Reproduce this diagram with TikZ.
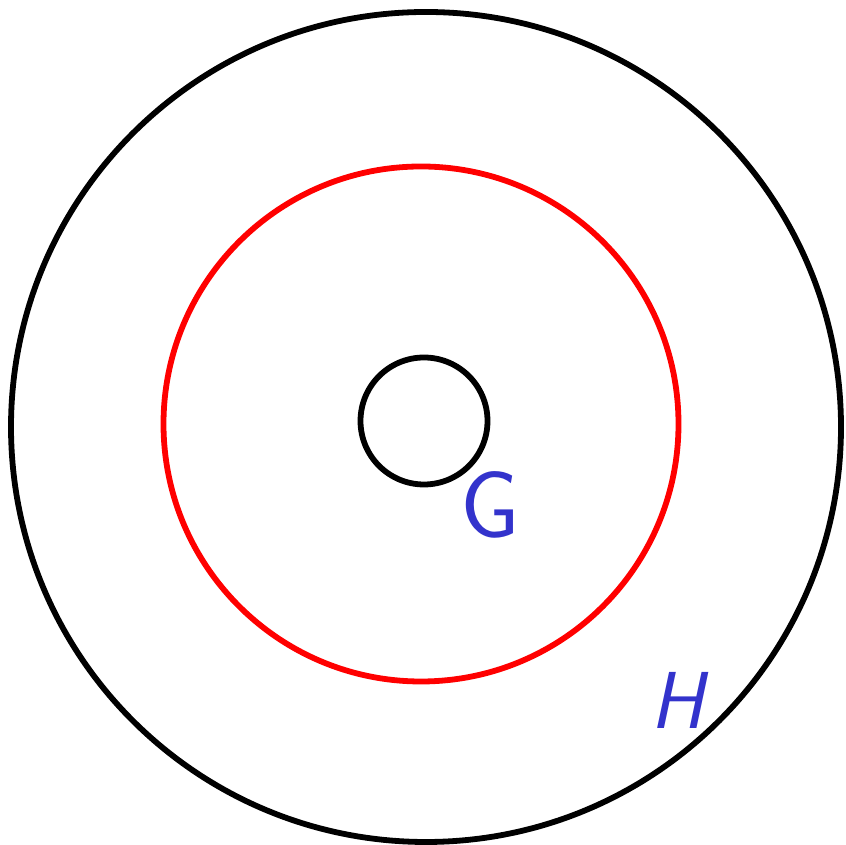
\documentclass[tikz,border=0pt]{standalone}
\usepackage{amsmath, amssymb}
\usepackage{tikz}

\definecolor{labelblue}{RGB}{51,51,204}

\begin{document}
\begin{tikzpicture}[
    ring/.style={line width=3.3pt},
    grouplabel/.style={text=labelblue, font=\sffamily\fontsize{46}{46}\selectfont, inner sep=0pt}
  ]

    % 固定画布大小
    \useasboundingbox (0,0) rectangle (16.92,16.9);

    % 圆心
    \coordinate (O_H) at (8.52, 8.36);
    \coordinate (O_R) at (8.42, 8.42);
    \coordinate (O_G) at (8.48, 8.48);

    % 外圆 H
    \draw[ring] (O_H) circle (8.30);

    % 红色圆
    \draw[ring, red] (O_R) circle (5.15);

    % 内圆 G
    \draw[ring] (O_G) circle (1.27);

    % 标签
    \node[grouplabel, font=\sffamily\fontsize{54}{54}\selectfont] (G) at (9.80, 6.80) {G};
    \node[grouplabel, font=\sffamily\slshape\fontsize{46}{46}\selectfont] (H) at (13.54, 2.90) {H};

\end{tikzpicture}
\end{document}
